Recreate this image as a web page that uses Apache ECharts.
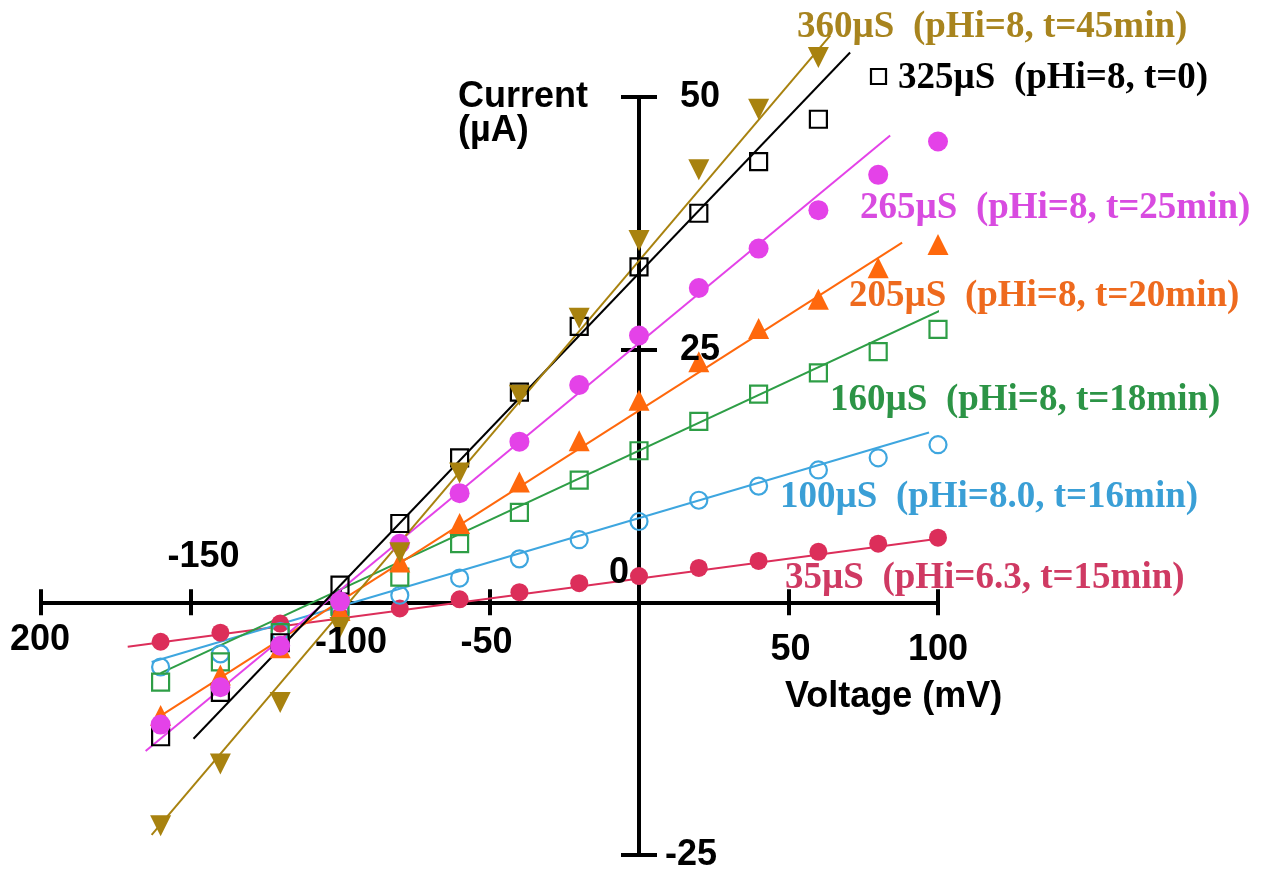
<!DOCTYPE html>
<html>
<head>
<meta charset="utf-8">
<script src="https://cdn.jsdelivr.net/npm/echarts@6/dist/echarts.min.js"></script>
<style>
html,body{margin:0;padding:0;background:#fff;}
#chart{width:1263px;height:869px;}
</style>
</head>
<body>
<div id="chart"></div>
<script>
// ---------------- DATA ----------------
const voltages = [-160,-140,-120,-100,-80,-60,-40,-20,0,20,40,60,80,100];
const cur35  = [-3.9,-3.0,-2.1,-1.4,-0.6,0.3,1.0,1.9,2.6,3.4,4.1,5.0,5.8,6.4];
const cur100 = [-6.4,-5.1,-2.9,-1.0,0.7,2.4,4.3,6.2,8.0,10.1,11.5,13.1,14.3,15.6];
const cur160 = [-7.9,-5.9,-3.0,-0.4,2.5,5.8,8.9,12.1,15.0,17.9,20.6,22.7,24.8,27.0];
const cur205 = [-11.2,-7.2,-4.5,-0.8,4.0,7.8,11.9,16.0,20.0,23.8,27.1,30.0,33.1,35.4];
const cur265 = [-12.1,-8.4,-4.3,0.1,5.8,10.8,15.9,21.5,26.4,31.1,35.0,38.8,42.3,45.6];
const cur325 = [-13.3,-8.9,-4.0,1.7,7.8,14.3,20.8,27.3,33.2,38.5,43.6,47.8];
const cur360 = [-22.1,-16.0,-9.9,-2.5,4.9,12.8,20.5,28.1,35.8,42.8,48.8,53.9];

const fit35  = [[-171,-4.4],[100,6.3]];
const fit100 = [[-163,-5.9],[97,16.8]];
const fit160 = [[-160,-7.0],[106,29.6]];
const fit205 = [[-162,-11.6],[88,35.6]];
const fit265 = [[-165,-14.7],[84,46.2]];
const fit325 = [[-149,-13.5],[70.6,54.4]];
const fit360 = [[-163,-23.0],[64,56.1]];

const seriesLabels = [
  '360µS  (pHi=8, t=45min)',
  '325µS  (pHi=8, t=0)',
  '265µS  (pHi=8, t=25min)',
  '205µS  (pHi=8, t=20min)',
  '160µS  (pHi=8, t=18min)',
  '100µS  (pHi=8.0, t=16min)',
  '35µS  (pHi=6.3, t=15min)'
];

const xTickValues = [-200,-150,-100,-50,50,100];
const xTickLabels = ['200','-150','-100','-50','50','100'];
const yTickValues = [50,25,0,-25];
const yTickLabels = ['50','25','0','-25'];
const xAxisTitle = 'Voltage (mV)';
const yAxisTitle = ['Current','(µA)'];

// ---------------- STYLE / LAYOUT ----------------
const C = {
  gold:'#A8820F', black:'#000000', magenta:'#E442E8', orange:'#FF680C',
  green:'#2E9E46', blue:'#3EA6DF', red:'#DC2E5A'
};
const T = {
  gold:'#A8841E', black:'#000000', magenta:'#D84BE0', orange:'#EE6A1E',
  green:'#2C9446', blue:'#3A9FD6', red:'#CF3A63'
};
const xTickOffsets = [[-1,38],[13,-45],[11,41],[-3,41],[2,48],[0,48]];
const yTickOffsets = [[61,0],[61,0],[-20,-29],[52,0]];
const labelPos = [[797,27],[898,78],[860,208],[849,296],[830,400],[780,497],[785,578]];
const labelColors = [T.gold,T.black,T.magenta,T.orange,T.green,T.blue,T.red];

function pairs(xs, ys){ return ys.map((y,i)=>[xs[i],y]); }

function fitLine(data, color, z){
  return {type:'line', data:data, showSymbol:false, symbol:'none', clip:false, z:z,
          lineStyle:{color:color, width:2}, silent:true, animation:false};
}
function scatter(data, symbol, size, color, filled, rotate, z){
  return {type:'scatter', data:data, symbol:symbol, symbolSize:size, symbolRotate:rotate||0,
          clip:false, z:z, animation:false,
          itemStyle: filled ? {color:color, opacity:1} :
                     {color:'rgba(255,255,255,0)', borderColor:color, borderWidth:2.2, opacity:1}};
}

const chart = echarts.init(document.getElementById('chart'), null, {renderer:'canvas'});

const axisLineStyle = {color:'#000', width:4};
const option = {
  animation:false,
  backgroundColor:'#fff',
  grid:{left:41, right:325, top:97, bottom:14},
  xAxis:[
    {type:'value', min:-200, max:100, interval:50, position:'bottom',
     axisLine:{onZero:true, lineStyle:axisLineStyle},
     axisTick:{show:true, length:13, lineStyle:{color:'#000', width:4}},
     axisLabel:{show:false}, splitLine:{show:false}},
    {type:'value', min:-200, max:100, interval:50, position:'top',
     axisLine:{onZero:true, lineStyle:axisLineStyle},
     axisTick:{show:true, length:13, lineStyle:{color:'#000', width:4}},
     axisLabel:{show:false}, splitLine:{show:false}}
  ],
  yAxis:[
    {type:'value', min:-25, max:50, interval:25, position:'left',
     axisLine:{onZero:true, lineStyle:axisLineStyle},
     axisTick:{show:true, length:18, lineStyle:{color:'#000', width:4}},
     axisLabel:{show:false}, splitLine:{show:false}},
    {type:'value', min:-25, max:50, interval:25, position:'right',
     axisLine:{onZero:true, lineStyle:axisLineStyle},
     axisTick:{show:true, length:18, lineStyle:{color:'#000', width:4}},
     axisLabel:{show:false}, splitLine:{show:false}}
  ],
  series:[
    fitLine(fit35, C.red, 2),
    fitLine(fit100, C.blue, 2),
    fitLine(fit160, C.green, 2),
    fitLine(fit205, C.orange, 2),
    fitLine(fit265, C.magenta, 2),
    fitLine(fit325, C.black, 2),
    fitLine(fit360, C.gold, 2),
    scatter(pairs(voltages,cur35), 'circle', 18, C.red, true, 0, 3),
    scatter(pairs(voltages,cur100), 'circle', 17, C.blue, false, 0, 3),
    scatter(pairs(voltages,cur160), 'rect', 17, C.green, false, 0, 3),
    scatter(pairs(voltages,cur325), 'rect', 17, C.black, false, 0, 3),
    scatter(pairs(voltages,cur205), 'triangle', 21, C.orange, true, 0, 4),
    scatter(pairs(voltages,cur265), 'circle', 20, C.magenta, true, 0, 5),
    scatter(pairs(voltages,cur360), 'triangle', 21, C.gold, true, 180, 6)
  ]
};
chart.setOption(option);

// ---------------- TEXT (graphic) ----------------
const g = [];
const sansBold = {fontFamily:'Liberation Sans, Arial, sans-serif', fontWeight:'bold', fontSize:36, fill:'#000'};
xTickValues.forEach((v,i)=>{
  const p = chart.convertToPixel({xAxisIndex:0, yAxisIndex:0}, [v,0]);
  g.push({type:'text', x:p[0]+xTickOffsets[i][0], y:p[1]+xTickOffsets[i][1], z:20,
          style:Object.assign({text:xTickLabels[i], align:'center', verticalAlign:'middle'}, sansBold)});
});
yTickValues.forEach((v,i)=>{
  const p = chart.convertToPixel({xAxisIndex:0, yAxisIndex:0}, [0,v]);
  g.push({type:'text', x:p[0]+yTickOffsets[i][0], y:p[1]+yTickOffsets[i][1], z:20,
          style:Object.assign({text:yTickLabels[i], align:'center', verticalAlign:'middle'}, sansBold)});
});
g.push({type:'text', x:458, y:97, z:20, style:Object.assign({text:yAxisTitle[0], align:'left', verticalAlign:'middle'}, sansBold)});
g.push({type:'text', x:458, y:131, z:20, style:Object.assign({text:yAxisTitle[1], align:'left', verticalAlign:'middle'}, sansBold)});
g.push({type:'text', x:785, y:697, z:20, style:Object.assign({text:xAxisTitle, align:'left', verticalAlign:'middle'}, sansBold)});

seriesLabels.forEach((s,i)=>{
  g.push({type:'text', x:labelPos[i][0], y:labelPos[i][1], z:20,
          style:{text:s, fill:labelColors[i], fontFamily:'Liberation Serif, Times New Roman, serif',
                 fontWeight:'bold', fontSize:37, align:'left', verticalAlign:'middle'}});
});
// legend-style symbol next to the 325µS label
g.push({type:'rect', shape:{x:871, y:69, width:15, height:15}, z:20,
        style:{fill:'rgba(255,255,255,0)', stroke:'#000', lineWidth:2.2}});

chart.setOption({graphic:g});
</script>
</body>
</html>
